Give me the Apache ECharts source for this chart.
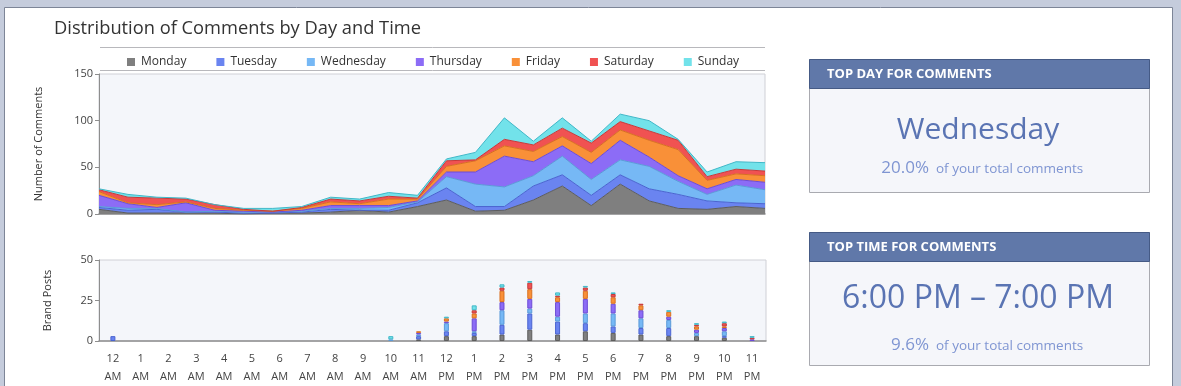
<!DOCTYPE html>
<html>
<head>
<meta charset="utf-8">
<script src="https://cdn.jsdelivr.net/npm/echarts@6/dist/echarts.min.js"></script>
<style>
html,body{margin:0;padding:0;background:#c5ccdc;}
#c{width:1181px;height:386px;}
</style>
</head>
<body>
<div id="c"></div>
<script>
// ---- data ----
const hours = ['12\nAM','1\nAM','2\nAM','3\nAM','4\nAM','5\nAM','6\nAM','7\nAM','8\nAM','9\nAM','10\nAM','11\nAM',
               '12\nPM','1\nPM','2\nPM','3\nPM','4\nPM','5\nPM','6\nPM','7\nPM','8\nPM','9\nPM','10\nPM','11\nPM'];
const days = ['Monday','Tuesday','Wednesday','Thursday','Friday','Saturday','Sunday'];

// Number of comments per hour, per day
const commentsMonday    = [5,1,1,1,1,0,1,1,2,4,2,8,15,3,4,15,30,9,32,14,6,5,8,6];
const commentsTuesday   = [2,3,4,1,1,1,0,1,3,0,2,4,13,5,4,15,12,11,10,13,15,9,4,5];
const commentsWednesday = [1,2,1,0,1,1,1,1,1,2,3,1,12,24,21,11,20,17,16,24,14,7,19,15];
const commentsThursday  = [12,5,1,10,1,1,0,1,3,3,2,1,5,13,33,15,11,17,21,10,6,6,6,8];
const commentsFriday    = [4,1,3,1,2,1,1,2,4,2,7,2,6,12,11,11,10,12,11,18,28,9,6,7];
const commentsSaturday  = [2,6,7,3,4,1,0,1,3,3,3,1,6,1,7,7,9,10,9,10,10,4,5,5];
const commentsSunday    = [1,3,1,1,0,1,3,1,2,2,4,3,2,8,23,4,11,2,8,11,1,5,8,9];

// Brand posts per hour, per day
const postsMonday    = [0,0,0,0,0,0,0,0,0,0,0,1,3,3,4,7,4,6,5,4,3,3,2,0];
const postsTuesday   = [3,0,0,0,0,0,0,0,0,0,0,2,3,2,6,10,8,5,4,4,5,0,1,0];
const postsWednesday = [0,0,0,0,0,0,0,0,0,0,1,1,5,1,9,3,3,6,8,6,5,2,3,0];
const postsThursday  = [0,0,0,0,0,0,0,0,0,0,0,1,1,8,5,6,9,9,6,5,2,2,2,1];
const postsFriday    = [0,0,0,0,0,0,0,0,0,0,0,1,2,3,7,6,3,5,4,3,3,2,1,0];
const postsSaturday  = [0,0,0,0,0,0,0,0,0,0,0,0,0,2,2,4,1,2,2,1,0,1,2,1];
const postsSunday    = [0,0,0,0,0,0,0,0,0,0,2,0,1,3,2,1,2,1,1,0,1,1,1,1];

const commentTicks = [0,50,100,150];
const postTicks = [0,25,50];

// ---- styles ----
const fills   = ['#7f7f7f','#6a84f0','#76b8f5','#8c6cf6','#f99038','#f05252','#72e2ea'];
const borders = ['#5c5c5c','#4a64d0','#5a9ad8','#6c4cd6','#d87020','#c83838','#40b8c8'];
const FONT = '"Open Sans", "Noto Sans", sans-serif';

const commentSets = [commentsMonday,commentsTuesday,commentsWednesday,commentsThursday,commentsFriday,commentsSaturday,commentsSunday];
const postSets = [postsMonday,postsTuesday,postsWednesday,postsThursday,postsFriday,postsSaturday,postsSunday];

const series = [];
days.forEach((d,i)=>{
  series.push({
    name:d, type:'line', stack:'comments', xAxisIndex:0, yAxisIndex:0,
    symbol:'none', smooth:false,
    lineStyle:{width:1,color:borders[i]},
    areaStyle:{color:fills[i],opacity:1},
    itemStyle:{color:fills[i]},
    data: commentSets[i]
  });
});
days.forEach((d,i)=>{
  series.push({
    name:d, type:'bar', stack:'posts', xAxisIndex:1, yAxisIndex:1,
    barWidth:5,
    itemStyle:{color:fills[i],borderColor:borders[i],borderWidth:1},
    data: postSets[i].map(v=> v===0 ? null : v)
  });
});

const axisLabelStyle = {color:'#444',fontSize:11,fontFamily:FONT};

function panel(y, header, big, pct, bigSize, bigY, subY){
  return [
    {type:'rect', shape:{x:809.5,y:y+0.5,width:340,height:133}, style:{fill:'#f5f6fa',stroke:'#a9aab0',lineWidth:1}},
    {type:'rect', shape:{x:809.5,y:y+0.5,width:340,height:29}, style:{fill:'#6078a9',stroke:'#455a85',lineWidth:1}},
    {type:'text', x:827, y:y+15, style:{text:header,fill:'#ffffff',font:'bold 13px '+FONT,textAlign:'left',textVerticalAlign:'middle'}},
    {type:'text', x:978, y:bigY, style:{text:big,fill:'#5a74b3',font:bigSize+'px '+FONT,textAlign:'center',textVerticalAlign:'middle'}},
    {type:'text', x:929, y:subY, style:{text:pct,fill:'#7f95d2',font:'17px '+FONT,textAlign:'right',textVerticalAlign:'middle'}},
    {type:'text', x:936, y:subY+1, style:{text:'of your total comments',fill:'#7f95d2',font:'13.5px '+FONT,textAlign:'left',textVerticalAlign:'middle'}}
  ];
}

const option = {
  backgroundColor:'#c5ccdc',
  animation:false,
  graphic:[
    {type:'rect', z:-10, shape:{x:4.5,y:7.5,width:1168,height:400}, style:{fill:'#ffffff',stroke:'#7d8597',lineWidth:1}},
    {type:'line', shape:{x1:100,y1:47.5,x2:765,y2:47.5}, style:{stroke:'#b8b8bc',lineWidth:1}},
    {type:'line', shape:{x1:100,y1:70.5,x2:765,y2:70.5}, style:{stroke:'#b8b8bc',lineWidth:1}},
    ...panel(59,'TOP DAY FOR COMMENTS','Wednesday','20.0%',30,130,168),
    ...panel(232,'TOP TIME FOR COMMENTS','6:00 PM \u2013 7:00 PM','9.6%',32,299,345)
  ],
  title:{
    text:'Distribution of Comments by Day and Time',
    left:54, top:20, padding:0,
    textStyle:{fontSize:18.3,fontWeight:'normal',color:'#333',fontFamily:FONT}
  },
  legend:{
    data:days, left:127, top:56, padding:0,
    icon:'rect', itemWidth:8, itemHeight:8, itemGap:30,
    textStyle:{fontSize:12,color:'#333',fontFamily:FONT,padding:[0,0,0,1]}
  },
  grid:[
    {left:99, top:74, width:666, height:140, show:true, backgroundColor:'#f4f6fa', borderColor:'#cfd0d6', borderWidth:1},
    {left:99, top:260, width:667, height:83, show:true, backgroundColor:'#f4f6fa', borderColor:'#cfd0d6', borderWidth:1}
  ],
  xAxis:[
    {type:'category', gridIndex:0, data:hours, boundaryGap:false,
     axisLine:{lineStyle:{color:'#8e8e8e',width:1.5}}, axisTick:{show:false}, axisLabel:{show:false}, splitLine:{show:false}},
    {type:'category', gridIndex:1, data:hours, boundaryGap:true,
     axisLine:{lineStyle:{color:'#8e8e8e',width:1.5}}, axisTick:{show:false},
     axisLabel:Object.assign({margin:9,lineHeight:18,interval:0},axisLabelStyle), splitLine:{show:false}}
  ],
  yAxis:[
    {type:'value', gridIndex:0, min:commentTicks[0], max:commentTicks[commentTicks.length-1], interval:50,
     name:'Number of Comments', nameLocation:'middle', nameGap:55, nameRotate:90,
     nameTextStyle:{fontSize:11,color:'#333',fontFamily:FONT},
     axisLine:{show:true,lineStyle:{color:'#8e8e8e'}}, axisTick:{show:true,length:4,lineStyle:{color:'#8e8e8e'}},
     axisLabel:Object.assign({margin:6},axisLabelStyle), splitLine:{show:false}},
    {type:'value', gridIndex:1, min:postTicks[0], max:postTicks[postTicks.length-1], interval:25,
     name:'Brand Posts', nameLocation:'middle', nameGap:46, nameRotate:90,
     nameTextStyle:{fontSize:11,color:'#333',fontFamily:FONT},
     axisLine:{show:true,lineStyle:{color:'#8e8e8e'}}, axisTick:{show:true,length:4,lineStyle:{color:'#8e8e8e'}},
     axisLabel:Object.assign({margin:6},axisLabelStyle), splitLine:{show:false}}
  ],
  series:series
};

const chart = echarts.init(document.getElementById('c'));
chart.setOption(option);
</script>
</body>
</html>
